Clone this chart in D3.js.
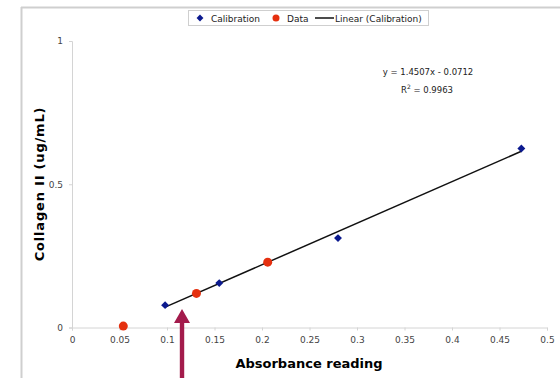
<!DOCTYPE html>
<html>
<head>
<meta charset="utf-8">
<script src="https://cdn.jsdelivr.net/npm/d3@7"></script>
<style>
  body { margin: 0; background: #fff; }
  text { font-family: "DejaVu Sans", Verdana, sans-serif; }
</style>
</head>
<body>
<svg id="chart"></svg>
<script>
// chart size
var width = 560,
    height = 378;

// calibration standards (absorbance, concentration)
var calX = [0.098, 0.155, 0.280, 0.473];
var calY = [0.078, 0.155, 0.312, 0.625];

// unknown samples
var dataX = [0.054, 0.131, 0.206];
var dataY = [0.005, 0.119, 0.228];

// linear fit shown on the chart
var slope = 1.4507, intercept = -0.0712, r2 = 0.9963;

var xTicks = [0, 0.05, 0.1, 0.15, 0.2, 0.25, 0.3, 0.35, 0.4, 0.45, 0.5];
var yTicks = [0, 0.5, 1];

// where the arrow points
var arrowAt = [0.1158, 0.065];

var svg = d3.select("#chart")
  .attr("width", width)
  .attr("height", height);

// chart frame (top and left edges visible)
svg.append("line")
  .attr("x1", 21).attr("x2", width).attr("y1", 7.5).attr("y2", 7.5)
  .style("stroke", "#cfcfcf").style("stroke-width", 2);
svg.append("line")
  .attr("x1", 21.5).attr("x2", 21.5).attr("y1", 7).attr("y2", height)
  .style("stroke", "#cfcfcf").style("stroke-width", 2);

var x = d3.scaleLinear().domain([0, 0.5]).range([72, 547]);
var y = d3.scaleLinear().domain([0, 1]).range([327.5, 41]);

// axes
var xAxis = svg.append("g")
  .attr("transform", "translate(0," + y(0) + ")")
  .call(d3.axisBottom(x).tickValues(xTicks).tickSize(3).tickPadding(6)
    .tickFormat(function(d) { return d3.format("")(+d.toFixed(2)); }));
var yAxis = svg.append("g")
  .attr("transform", "translate(" + x(0) + ",0)")
  .call(d3.axisLeft(y).tickValues(yTicks).tickSize(3).tickPadding(6)
    .tickFormat(function(d) { return d3.format("")(d); }));

[xAxis, yAxis].forEach(function(a) {
  a.select(".domain").style("stroke", "#d4d4d4");
  a.selectAll(".tick line").style("stroke", "#d4d4d4");
  a.selectAll("text").style("fill", "#444").style("font-size", "9px");
});

// axis titles
svg.append("text")
  .attr("x", 309).attr("y", 368)
  .attr("text-anchor", "middle")
  .style("font-size", "13px").style("font-weight", "bold")
  .text("Absorbance reading");
svg.append("text")
  .attr("transform", "translate(44,184) rotate(-90)")
  .attr("text-anchor", "middle")
  .style("font-size", "13px").style("font-weight", "bold")
  .style("letter-spacing", "0.8px")
  .text("Collagen II (ug/mL)");

// trend line over the calibration range
var x0 = d3.min(calX), x1 = d3.max(calX);
svg.append("line")
  .attr("x1", x(x0)).attr("y1", y(slope * x0 + intercept))
  .attr("x2", x(x1)).attr("y2", y(slope * x1 + intercept))
  .style("stroke", "#111").style("stroke-width", 1.5);

// calibration diamonds
var diamond = d3.symbol().type(d3.symbolDiamond2).size(40);
svg.selectAll(".cal")
  .data(calX)
  .enter().append("path")
    .attr("class", "cal")
    .attr("d", diamond)
    .attr("transform", function(d, i) { return "translate(" + x(d) + "," + y(calY[i]) + ")"; })
    .style("fill", "#0c1a8f");

// data circles
svg.selectAll(".dat")
  .data(dataX)
  .enter().append("circle")
    .attr("class", "dat")
    .attr("cx", function(d) { return x(d); })
    .attr("cy", function(d, i) { return y(dataY[i]); })
    .attr("r", 4.5)
    .style("fill", "#e5300f");

// equation label
svg.append("text")
  .attr("x", 428).attr("y", 75)
  .attr("text-anchor", "middle")
  .style("font-size", "8.5px").style("fill", "#222")
  .text("y = " + slope.toFixed(4) + "x - " + Math.abs(intercept).toFixed(4));
var r2t = svg.append("text")
  .attr("x", 427).attr("y", 93)
  .attr("text-anchor", "middle")
  .style("font-size", "8.5px").style("fill", "#222");
r2t.append("tspan").text("R");
r2t.append("tspan").attr("dy", -4).style("font-size", "6px").text("2");
r2t.append("tspan").attr("dy", 4).text(" = " + r2.toFixed(4));

// legend
var lg = svg.append("g");
lg.append("rect")
  .attr("x", 188.5).attr("y", 10.5).attr("width", 240).attr("height", 15)
  .style("fill", "#fff").style("stroke", "#cfcfcf");
lg.append("path")
  .attr("d", d3.symbol().type(d3.symbolDiamond2).size(30))
  .attr("transform", "translate(200,18)")
  .style("fill", "#0c1a8f");
lg.append("text").attr("x", 211).attr("y", 21.5)
  .style("font-size", "9px").style("fill", "#222").text("Calibration");
lg.append("circle").attr("cx", 276).attr("cy", 18).attr("r", 3.5)
  .style("fill", "#e5300f");
lg.append("text").attr("x", 287).attr("y", 21.5)
  .style("font-size", "9px").style("fill", "#222").text("Data");
lg.append("line").attr("x1", 315).attr("x2", 334).attr("y1", 18).attr("y2", 18)
  .style("stroke", "#111").style("stroke-width", 1.5);
lg.append("text").attr("x", 335).attr("y", 21.5)
  .style("font-size", "9px").style("fill", "#222").text("Linear (Calibration)");

// arrow annotation
var ax = x(arrowAt[0]), ay = y(arrowAt[1]);
svg.append("path")
  .attr("d", "M" + ax + "," + ay +
    " L" + (ax + 8) + "," + (ay + 14) +
    " L" + (ax + 2.2) + "," + (ay + 14) +
    " L" + (ax + 2.2) + "," + height +
    " L" + (ax - 2.2) + "," + height +
    " L" + (ax - 2.2) + "," + (ay + 14) +
    " L" + (ax - 8) + "," + (ay + 14) + " Z")
  .style("fill", "#a31b4c");
</script>
</body>
</html>
